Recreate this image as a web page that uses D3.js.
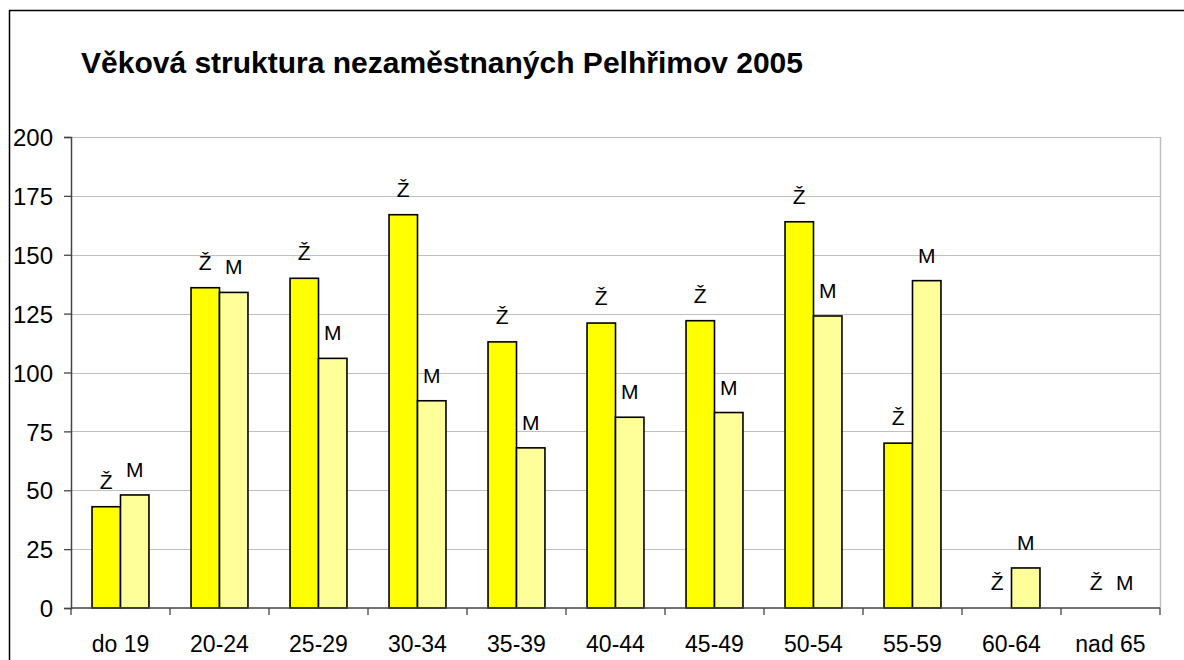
<!DOCTYPE html>
<html>
<head>
<meta charset="utf-8">
<script src="https://cdn.jsdelivr.net/npm/d3@7"></script>
<style>
  body { margin: 0; background: #fff; }
  text { font-family: "Liberation Sans", Arial, sans-serif; fill: #000; }
</style>
</head>
<body>
<div id="chart"></div>
<script>
// Data.
var categories = ["do 19", "20-24", "25-29", "30-34", "35-39", "40-44", "45-49", "50-54", "55-59", "60-64", "nad 65"];
var seriesNames = ["Ž", "M"];
var zeny = [43, 136, 140, 167, 113, 121, 122, 164, 70, 0, 0];
var muzi = [48, 134, 106, 88, 68, 81, 83, 124, 139, 17, 0];
var yTicks = [0, 25, 50, 75, 100, 125, 150, 175, 200];
var colors = ["#ffff00", "#ffff99"];

var width = 1184, height = 660;
var margin = {left: 71, right: 24, top: 137, bottom: 52};

var svg = d3.select("#chart").append("svg")
    .attr("width", width)
    .attr("height", height);

// Outer chart frame (runs off the right and bottom edges).
svg.append("rect")
    .attr("x", 9.5).attr("y", 10.5)
    .attr("width", width).attr("height", height)
    .style("fill", "none").style("stroke", "#000").style("stroke-width", 1.5);

svg.append("text")
    .attr("x", 81).attr("y", 73)
    .style("font-size", "30px").style("font-weight", "bold")
    .text("Věková struktura nezaměstnaných Pelhřimov 2005");

var x0 = d3.scaleBand()
    .domain(categories)
    .range([margin.left, width - margin.right])
    .paddingInner(0.425).paddingOuter(0.2125);
var x1 = d3.scaleBand()
    .domain(seriesNames)
    .range([0, x0.bandwidth()]);
var y = d3.scaleLinear()
    .domain([0, 200])
    .range([height - margin.bottom, margin.top]);

var plotW = width - margin.right - margin.left;

// Grid lines.
svg.append("g").selectAll("line")
    .data(yTicks.filter(function(d) { return d > 0; }))
    .enter().append("line")
    .attr("x1", margin.left).attr("x2", width - margin.right)
    .attr("y1", function(d) { return Math.round(y(d)) + 0.5; })
    .attr("y2", function(d) { return Math.round(y(d)) + 0.5; })
    .style("stroke", "#c0c0c0").style("stroke-width", 1);

// Plot area right border.
svg.append("line")
    .attr("x1", width - margin.right + 0.5).attr("x2", width - margin.right + 0.5)
    .attr("y1", y(200)).attr("y2", y(0))
    .style("stroke", "#c0c0c0").style("stroke-width", 1.5);

// Bars.
var data = categories.map(function(c, i) {
    return {cat: c, vals: [{s: "Ž", v: zeny[i], c: colors[0]}, {s: "M", v: muzi[i], c: colors[1]}]};
});

var groups = svg.append("g").selectAll("g")
    .data(data).enter().append("g")
    .attr("transform", function(d) { return "translate(" + x0(d.cat) + ",0)"; });

groups.selectAll("rect")
    .data(function(d) { return d.vals.filter(function(e) { return e.v > 0; }); })
    .enter().append("rect")
    .attr("x", function(d) { return x1(d.s); })
    .attr("y", function(d) { return y(d.v); })
    .attr("width", x1.bandwidth())
    .attr("height", function(d) { return y(0) - y(d.v); })
    .style("fill", function(d) { return d.c; })
    .style("stroke", "#000").style("stroke-width", 1.6);

groups.selectAll("text")
    .data(function(d) { return d.vals; })
    .enter().append("text")
    .attr("x", function(d) { return x1(d.s) + x1.bandwidth() / 2; })
    .attr("y", function(d) { return y(d.v) - 18; })
    .attr("text-anchor", "middle")
    .style("font-size", "21px")
    .text(function(d) { return d.s; });

// Y axis.
var yAxis = svg.append("g")
    .attr("transform", "translate(" + margin.left + ",0)")
    .call(d3.axisLeft(y).tickValues(yTicks).tickSize(7).tickPadding(11));
yAxis.selectAll("text").style("font-size", "24px").attr("dy", "0.36em");
yAxis.select(".domain").style("stroke", "#444").style("stroke-width", 1.5);
yAxis.selectAll(".tick line").style("stroke", "#444").style("stroke-width", 1.3);

// X axis: ticks between categories.
var xAxisG = svg.append("g")
    .attr("transform", "translate(0," + y(0) + ")");
xAxisG.append("line")
    .attr("x1", margin.left).attr("x2", width - margin.right)
    .style("stroke", "#444").style("stroke-width", 1.5);
var step = plotW / categories.length;
xAxisG.selectAll("line.tk")
    .data(d3.range(categories.length + 1))
    .enter().append("line").attr("class", "tk")
    .attr("x1", function(d) { return margin.left + d * step; })
    .attr("x2", function(d) { return margin.left + d * step; })
    .attr("y1", 0).attr("y2", 7)
    .style("stroke", "#444").style("stroke-width", 1.3);
xAxisG.selectAll("text")
    .data(categories).enter().append("text")
    .attr("x", function(d) { return x0(d) + x0.bandwidth() / 2; })
    .attr("y", 44)
    .attr("text-anchor", "middle")
    .style("font-size", "23px")
    .text(function(d) { return d; });
</script>
</body>
</html>
